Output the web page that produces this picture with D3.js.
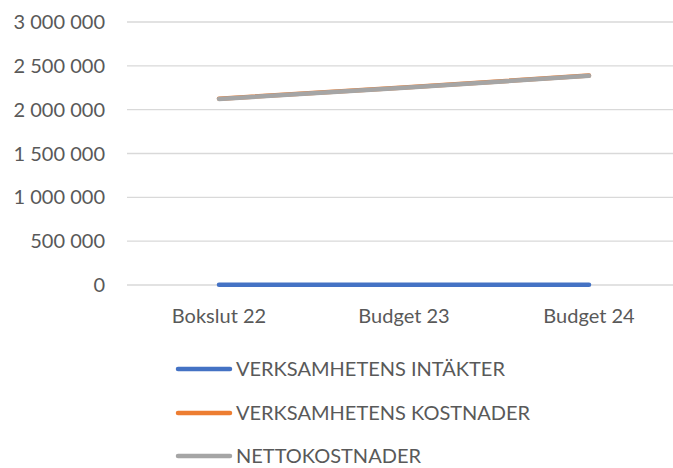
<!DOCTYPE html>
<html><head><meta charset="utf-8">
<script src="https://cdn.jsdelivr.net/npm/d3@7"></script>
<style>body{margin:0;background:#fff}svg{display:block}text{font-family:Lato,"Open Sans",sans-serif;fill:#595959}</style>
</head><body><svg id="c" width="673" height="468"></svg>
<script>
const categories = ["Bokslut 22", "Budget 23", "Budget 24"];
const intakter = [2000, 2000, 2000];
const kostnader = [2125000, 2252000, 2389000];
const netto = [2122000, 2249000, 2386000];
const yTicks = [0, 500000, 1000000, 1500000, 2000000, 2500000, 3000000];
const seriesNames = ["VERKSAMHETENS INTÄKTER", "VERKSAMHETENS KOSTNADER", "NETTOKOSTNADER"];
const colors = ["#4472C4", "#ED7D31", "#A5A5A5"];

const svg = d3.select("#c");
const x = d3.scalePoint().domain(categories).range([219, 589]);
const y = d3.scaleLinear().domain([0, 3000000]).range([285, 22]);
const fmt = v => d3.format(",")(v).replace(/,/g, " ");
const fs = 20;

svg.append("g").selectAll("line").data(yTicks).join("line")
  .attr("x1", 127).attr("x2", 673)
  .attr("y1", d => y(d)).attr("y2", d => y(d))
  .attr("stroke", "#D9D9D9").attr("stroke-width", 1.3);

svg.append("g").selectAll("text").data(yTicks).join("text")
  .attr("x", 105).attr("y", d => y(d)).attr("dy", "0.35em")
  .attr("text-anchor", "end").attr("font-size", fs).text(fmt);

svg.append("g").selectAll("text").data(categories).join("text")
  .attr("x", d => x(d)).attr("y", 316).attr("dy", "0.35em")
  .attr("text-anchor", "middle").attr("font-size", fs).text(d => d);

const line = d3.line().x((d, i) => x(categories[i])).y(d => y(d));
[intakter, kostnader, netto].forEach((s, i) => {
  svg.append("path").datum(s).attr("d", line)
    .attr("fill", "none").attr("stroke", colors[i]).attr("stroke-width", 4.5)
    .attr("stroke-linecap", "round").attr("stroke-linejoin", "round");
});

const legY = [369, 413, 456];
seriesNames.forEach((n, i) => {
  svg.append("line").attr("x1", 178).attr("x2", 230).attr("y1", legY[i]).attr("y2", legY[i])
    .attr("stroke", colors[i]).attr("stroke-width", 4.5).attr("stroke-linecap", "round");
  svg.append("text").attr("x", 236).attr("y", legY[i]).attr("dy", "0.35em")
    .attr("font-size", fs).text(n);
});
</script></body></html>
